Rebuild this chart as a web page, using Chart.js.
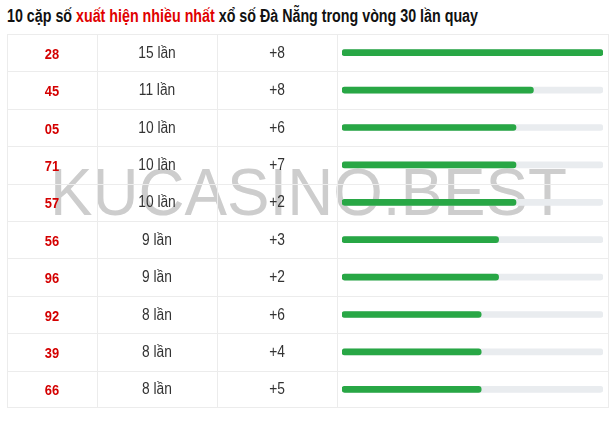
<!DOCTYPE html>
<html>
<head>
<meta charset="utf-8">
<script src="https://cdn.jsdelivr.net/npm/chart.js@4.4.1/dist/chart.umd.min.js"></script>
<style>
  html, body { margin: 0; padding: 0; background: #fff; }
  body { width: 615px; height: 421px; position: relative; overflow: hidden; font-family: "Liberation Sans", Arial, sans-serif; }
  #title { position: absolute; left: 7px; top: 6px; font-weight: bold; font-size: 18px; color: #111; white-space: nowrap; transform-origin: 0 0; }
  #title .red { color: #e00000; }
  #table { position: absolute; left: 7px; top: 34px; width: 602px; height: 374px; border: 1px solid #ececec; box-sizing: border-box; }
  #wrap { position: absolute; left: 7px; top: 34px; width: 602px; height: 374px; }
  .hline { position: absolute; left: 7px; width: 602px; height: 1px; background: #ececec; }
  .vline { position: absolute; top: 34px; height: 374px; width: 1px; background: #ececec; }
  .cell { position: absolute; transform: translate(-50%, -50%) scaleX(0.86); white-space: nowrap; }
  .num { color: #d40000; font-weight: bold; font-size: 15px; }
  .cnt { color: #333; font-size: 16px; }
  .dlt { color: #333; font-size: 16px; }
  #wm { position: absolute; left: 50px; top: 191px; font-size: 67px; line-height: 67px; color: #cdcdcd; white-space: nowrap; font-family: "Liberation Sans", Arial, sans-serif; transform-origin: 0 50%; }
</style>
</head>
<body>
<div id="title">10 cặp số <span class="red">xuất hiện nhiều nhất</span> xổ số Đà Nẵng trong vòng 30 lần quay</div>
<div id="table"></div>
<div id="wm">KUCASINO.BEST</div>
<div id="wrap"><canvas id="c" width="602" height="374"></canvas></div>
<div id="cells"></div>
<script>
const pairs  = ["28", "45", "05", "71", "57", "56", "96", "92", "39", "66"];
const counts = [15, 11, 10, 10, 10, 9, 9, 8, 8, 8];
const deltas = ["+8", "+8", "+6", "+7", "+2", "+3", "+2", "+6", "+4", "+5"];
const maxCount = 15;
const unit = "lần";

// fit title width
const t = document.getElementById('title');
const tw = t.getBoundingClientRect().width;
t.style.transform = 'scaleX(' + (471 / tw) + ')';

// watermark fit
const wm = document.getElementById('wm');
const ww = wm.getBoundingClientRect().width;
wm.style.transform = 'translateY(-50%) scaleX(' + (517 / ww) + ')';

const chart = new Chart(document.getElementById('c'), {
  type: 'bar',
  data: {
    labels: pairs,
    datasets: [
      { data: counts, backgroundColor: '#28a745', grouped: false, order: 0,
        barThickness: 6, borderRadius: 3, borderSkipped: false },
      { data: pairs.map(() => maxCount), backgroundColor: '#e9ecef', grouped: false, order: 1,
        barThickness: 6, borderRadius: 3, borderSkipped: false }
    ]
  },
  options: {
    indexAxis: 'y',
    responsive: false,
    animation: false,
    layout: { padding: { left: 335, right: 6, top: 0, bottom: 0 } },
    plugins: { legend: { display: false }, tooltip: { enabled: false } },
    scales: {
      x: { display: false, min: 0, max: maxCount },
      y: { display: false, offset: true }
    }
  }
});

const ys = chart.scales.y;
const cells = document.getElementById('cells');
const top0 = 34;
const colX = [52, 157, 277];
function add(cls, txt, x, y) {
  const d = document.createElement('div');
  d.className = 'cell ' + cls;
  d.textContent = txt;
  d.style.left = x + 'px';
  d.style.top = y + 'px';
  cells.appendChild(d);
}
pairs.forEach((p, i) => {
  const y = top0 + ys.getPixelForValue(i);
  add('num', p, colX[0], y);
  add('cnt', counts[i] + ' ' + unit, colX[1], y);
  add('dlt', deltas[i], colX[2], y);
  if (i > 0) {
    const h = document.createElement('div');
    h.className = 'hline';
    h.style.top = Math.round(top0 + (ys.getPixelForValue(i - 1) + ys.getPixelForValue(i)) / 2) + 'px';
    cells.appendChild(h);
  }
});
[97, 217, 337].forEach(x => {
  const v = document.createElement('div');
  v.className = 'vline';
  v.style.left = x + 'px';
  cells.appendChild(v);
});
</script>
</body>
</html>
